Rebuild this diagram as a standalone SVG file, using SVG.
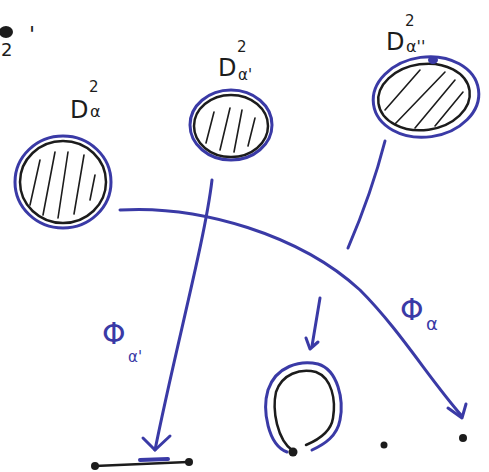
<svg xmlns="http://www.w3.org/2000/svg" width="489" height="472" viewBox="0 0 489 472">
<style>
.b{fill:none;stroke:#3a3aa6;stroke-width:3;stroke-linecap:round;stroke-linejoin:round}
.k{fill:none;stroke:#1c1c1c;stroke-width:2.5;stroke-linecap:round;stroke-linejoin:round}
.h{fill:none;stroke:#1c1c1c;stroke-width:1.6;stroke-linecap:round}
.t{font-family:"DejaVu Sans",sans-serif;fill:#1c1c1c}
.tb{font-family:"DejaVu Sans",sans-serif;fill:#3a3aa6}
</style>
<rect width="489" height="472" fill="#fff"/>
<g id="corner">
<ellipse cx="6" cy="32" rx="7" ry="6" fill="#1c1c1c"/>
<text class="t" x="1" y="56" font-size="18">2</text>
<text class="t" x="29" y="42" font-size="22">'</text>
</g>
<g id="disk-a">
<ellipse class="b" cx="63" cy="182" rx="48" ry="46"/>
<ellipse class="k" cx="63" cy="182" rx="43" ry="41"/>
<path class="h" d="M30 205 L40 160 M43 215 L55 152 M58 218 L68 152 M74 214 L84 155 M90 200 L95 175"/>
<text class="t" x="70" y="118" font-size="24">D</text>
<text class="t" x="89" y="92" font-size="15">2</text>
<text class="t" x="90" y="117" font-size="16">α</text>
</g>
<g id="disk-a1">
<ellipse class="b" cx="231" cy="125" rx="41" ry="35"/>
<ellipse class="k" cx="231" cy="126" rx="37" ry="31"/>
<path class="h" d="M206 143 L214 112 M220 150 L230 108 M234 152 L242 110 M248 146 L255 118"/>
<text class="t" x="218" y="76" font-size="24">D</text>
<text class="t" x="237" y="52" font-size="15">2</text>
<text class="t" x="238" y="80" font-size="15">α'</text>
</g>
<g id="disk-a2">
<ellipse class="b" cx="426" cy="97" rx="53" ry="40" transform="rotate(-8 426 97)"/>
<ellipse class="k" cx="424" cy="97" rx="46" ry="33" transform="rotate(-8 424 97)"/>
<ellipse cx="433" cy="60" rx="5" ry="4" fill="#3a3aa6"/>
<path class="h" d="M385 110 L420 70 M395 124 L445 72 M415 128 L455 80 M435 126 L463 92"/>
<text class="t" x="386" y="50" font-size="24">D</text>
<text class="t" x="405" y="26" font-size="15">2</text>
<text class="t" x="406" y="52" font-size="16">α''</text>
</g>
<g id="connectors">
<path class="b" d="M120 210 C200 205 300 235 360 290 C400 330 430 380 462 416"/>
<path class="b" d="M448 408 L462 418 L466 404"/>
<path class="b" d="M212 180 C205 240 175 350 155 450"/>
<path class="b" d="M143 438 L155 450 L170 436"/>
<path class="b" d="M385 141 C375 180 360 220 348 248"/>
<path class="b" d="M320 298 L312 346"/>
<path class="b" d="M306 338 L310 349 L318 342"/>
</g>
<g id="labels">
<text class="tb" x="102" y="344" font-size="30">Φ</text>
<text class="tb" x="128" y="362" font-size="15">α'</text>
<text class="tb" x="400" y="320" font-size="30">Φ</text>
<text class="tb" x="426" y="330" font-size="18">α</text>
</g>
<g id="segment">
<path class="k" d="M95 466 L188 462"/>
<circle cx="95" cy="466" r="4" fill="#1c1c1c"/>
<circle cx="189" cy="462" r="4" fill="#1c1c1c"/>
<path d="M140 460 L168 459" stroke="#3a3aa6" stroke-width="4" stroke-linecap="round"/>
</g>
<g id="loop">
<path class="b" d="M287 452 C268 445 262 410 268 390 C276 366 300 360 318 364 C338 370 344 400 340 420 C337 436 325 444 312 450"/>
<path class="k" d="M293 451 C277 440 272 410 276 392 C282 374 300 368 316 372 C332 378 336 400 333 418 C331 432 318 440 306 445"/>
<circle cx="293" cy="452" r="4.5" fill="#1c1c1c"/>
</g>
<g id="points">
<circle cx="384" cy="445" r="3.5" fill="#1c1c1c"/>
<circle cx="463" cy="438" r="4" fill="#1c1c1c"/>
</g>
</svg>
